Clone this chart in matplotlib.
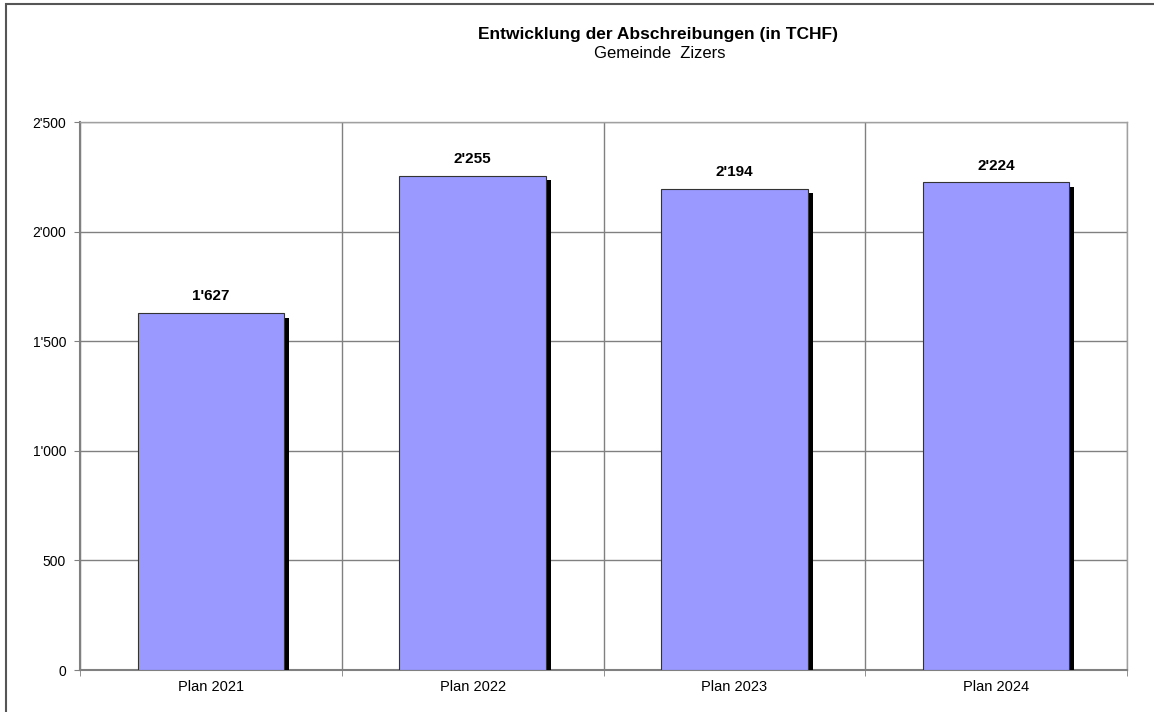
import numpy as np
import matplotlib.pyplot as plt
import matplotlib.patheffects as pe
from matplotlib.patches import Rectangle

categories = ["Plan 2021", "Plan 2022", "Plan 2023", "Plan 2024"]
values = [1627, 2255, 2194, 2224]
yticks = [0, 500, 1000, 1500, 2000, 2500]

bar_color = "#9999FF"
grid_color = "#808080"


def swiss(v):
    s = f"{int(v):,}"
    return s.replace(",", "'")


plt.rcParams["font.family"] = ["Liberation Sans", "DejaVu Sans"]

fig = plt.figure(figsize=(11.54, 7.12), dpi=100)
# outer frame of the chart object
fig.patches.append(Rectangle((6 / 1154, -0.1), 1.2, (712 - 4) / 712 + 0.1,
                             transform=fig.transFigure, fill=False,
                             edgecolor="#555555", linewidth=1.5))

ax = fig.add_axes([80 / 1154, 42 / 712, 1047 / 1154, 548 / 712])

x = np.arange(len(categories))
bars = ax.bar(x, values, width=0.56, color=bar_color, edgecolor="#333333",
              linewidth=0.8, zorder=3)
for b in bars:
    b.set_path_effects([pe.SimplePatchShadow(offset=(3.5, -3), shadow_rgbFace="black", alpha=1.0),
                        pe.Normal()])

for xi, v in zip(x, values):
    ax.text(xi, v + 45, swiss(v), ha="center", va="bottom", fontsize=11,
            fontweight="bold", color="black")

ax.set_xlim(-0.5, len(categories) - 0.5)
ax.set_ylim(0, 2500)
ax.set_yticks(yticks)
ax.set_yticklabels([swiss(t) for t in yticks], fontsize=10)
ax.set_xticks(x)
ax.set_xticklabels(categories, fontsize=10.5)
ax.tick_params(axis="x", which="major", length=0, pad=7)
ax.set_xticks(np.arange(-0.5, len(categories)), minor=True)
ax.tick_params(axis="x", which="minor", length=4, color=grid_color)
ax.tick_params(axis="y", length=4, color=grid_color, pad=6)

ax.grid(axis="y", color=grid_color, linewidth=1, zorder=0)
ax.grid(axis="x", which="minor", color=grid_color, linewidth=1, zorder=0)
ax.set_axisbelow(True)
for side in ["left", "bottom"]:
    ax.spines[side].set_color(grid_color)
    ax.spines[side].set_linewidth(1.5)
for side in ["top", "right"]:
    ax.spines[side].set_color("#A0A0A0")
    ax.spines[side].set_linewidth(1)

fig.text(658, 712 - 35, "Entwicklung der Abschreibungen (in TCHF)", transform=None,
         ha="center", va="center", fontsize=12.5, fontweight="bold")
fig.text(660, 712 - 53, "Gemeinde  Zizers", transform=None,
         ha="center", va="center", fontsize=12)

fig.savefig("out.png", dpi=100)
